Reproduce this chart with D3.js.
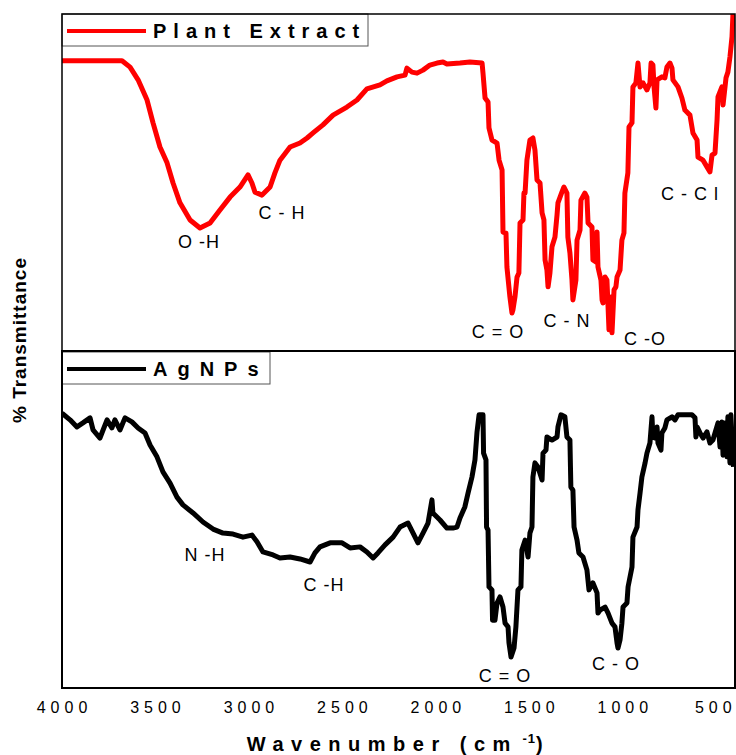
<!DOCTYPE html>
<html>
<head>
<meta charset="utf-8">
<script src="https://cdn.jsdelivr.net/npm/d3@7"></script>
<style>
  body { margin: 0; background: #fff; }
  svg text { font-family: "Liberation Sans", Arial, sans-serif; fill: #000; }
</style>
</head>
<body>
<div id="plot"></div>
<script>
var width = 736;
var height = 755;

// Plant extract spectrum: wavenumber (cm-1) and % transmittance
var peWn = [4000,3679,3636,3593,3545,3513,3476,3438,3406,3369,
    3315,3262,3208,3155,3101,3048,3005,2984,2968,2930,
    2887,2861,2834,2780,2727,2689,2657,2604,2550,2476,
    2422,2369,2299,2262,2208,2165,2155,2128,2101,2069,
    2032,1994,1962,1941,1871,1818,1753,1748,1737,1721,
    1716,1700,1673,1662,1646,1641,1625,1620,1604,1593,
    1588,1577,1566,1556,1550,1534,1529,1523,1513,1497,
    1481,1470,1459,1443,1432,1422,1416,1406,1400,1390,
    1379,1363,1352,1347,1326,1315,1299,1294,1283,1272,
    1267,1251,1245,1229,1224,1203,1192,1186,1165,1160,
    1144,1138,1133,1117,1111,1106,1095,1085,1079,1074,
    1063,1058,1047,1037,1031,1015,1005,994,989,973,
    967,951,946,930,919,908,892,871,855,849,
    839,833,823,817,791,775,764,748,737,732,
    705,684,668,641,625,603,598,571,550,534,
    523,507,496,491,470,464,448,438,427,416,
    411];
var peT = [86.1,86.1,84.2,80.4,74.4,67.6,60.4,55.7,49.7,43.8,
    38.7,36.3,37.8,41.7,45.5,48.5,52.1,49.7,47.0,46.1,
    48.5,52.7,56.5,60.4,61.6,63.1,64.6,67.0,69.9,72.3,
    74.4,77.7,78.9,80.1,81.3,81.8,83.9,82.7,82.4,83.3,
    84.8,85.4,85.7,85.1,85.4,85.7,85.4,82.4,75.0,73.8,
    66.1,62.5,61.6,56.5,53.6,35.1,34.8,24.7,15.8,11.0,
    11.9,15.8,21.7,22.9,37.8,38.7,46.7,46.7,56.5,62.5,
    63.1,59.5,50.6,49.7,40.8,38.7,26.8,23.8,18.8,22.9,
    30.7,33.6,40.2,43.8,47.0,48.5,46.7,33.6,28.9,20.8,
    14.9,20.8,32.7,35.7,44.6,46.7,45.5,37.8,36.6,26.8,
    26.2,35.1,24.7,20.8,14.9,14.0,21.7,20.8,12.8,6.0,
    15.8,5.1,17.9,18.8,21.7,23.8,32.7,34.8,46.7,52.7,
    66.4,67.6,78.3,79.5,85.4,78.3,79.5,77.4,79.5,85.4,
    84.8,78.3,72.0,80.4,81.3,81.0,84.2,85.4,83.9,80.4,
    78.3,75.0,71.4,69.9,64.6,62.5,57.4,56.5,54.5,53.0,
    58.0,58.6,68.5,75.3,78.3,72.9,81.0,82.7,87.2,93.2,
    100];

// AgNPs spectrum
var agWn = [4000,3957,3920,3888,3850,3834,3797,3759,3733,3717,
    3690,3663,3626,3593,3556,3529,3492,3460,3422,3385,
    3353,3299,3246,3192,3139,3085,3032,2984,2957,2925,
    2871,2834,2780,2727,2673,2647,2620,2566,2502,2459,
    2406,2369,2336,2310,2272,2229,2192,2149,2122,2096,
    2069,2042,2021,2016,1978,1941,1909,1887,1871,1845,
    1828,1807,1791,1780,1769,1748,1745,1732,1729,1721,
    1716,1700,1697,1684,1673,1657,1641,1630,1614,1609,
    1598,1582,1572,1561,1545,1540,1523,1507,1497,1486,
    1481,1470,1454,1432,1427,1411,1406,1379,1352,1347,
    1331,1310,1299,1283,1278,1267,1261,1245,1235,1213,
    1192,1181,1160,1138,1133,1122,1095,1079,1058,1042,
    1031,1026,1015,1005,999,978,972,951,946,924,
    919,908,898,881,871,855,844,839,828,817,
    812,796,791,775,764,737,721,705,668,630,
    614,609,603,587,571,550,534,518,507,491,
    480,470,464,454,443,438,427,422,411,408];
var agT = [81.8,79.8,77.7,78.9,80.4,76.8,74.4,79.8,77.4,79.8,
    76.8,80.4,79.2,77.4,75.9,72.3,68.8,64.3,61.0,56.8,
    54.5,52.1,49.4,47.3,46.1,45.8,44.9,45.5,43.5,40.5,
    39.6,38.7,39.0,38.4,37.5,40.2,42.0,43.2,43.2,41.7,
    42.0,40.5,38.7,40.2,42.6,44.9,47.9,49.1,46.1,43.2,
    46.1,49.1,56.0,52.1,50.0,47.6,47.6,47.9,50.6,53.9,
    58.0,62.8,67.9,76.2,81.3,81.3,69.9,67.9,47.9,47.0,
    30.1,29.2,20.2,20.2,25.3,27.1,24.1,19.3,18.2,13.4,
    9.2,11.9,18.2,29.2,30.1,41.1,44.0,39.0,46.1,47.9,
    62.8,67.0,65.8,61.9,69.9,70.8,74.7,73.8,74.7,77.7,
    81.3,80.7,74.7,73.8,59.8,58.9,47.9,44.0,40.2,39.0,
    35.1,29.2,31.3,28.3,22.3,23.2,24.1,22.3,19.3,18.2,
    13.4,11.9,14.3,19.3,24.1,25.3,30.1,36.0,44.9,47.9,
    53.0,58.0,62.8,67.0,69.9,72.9,80.7,74.7,74.4,77.7,
    72.9,70.8,75.9,77.4,79.8,80.7,79.8,81.3,81.3,81.3,
    80.4,74.7,77.7,75.9,74.4,76.2,72.9,73.8,75.9,78.9,
    71.7,79.2,69.3,78.9,68.8,80.7,67.0,81.3,68.8,65.8];

var xTicks = [4000, 3500, 3000, 2500, 2000, 1500, 1000, 500];

// band labels: text, wavenumber, transmittance
var peBands = [['O -H', 3267, 31.8], ['C - H', 2823, 40.5], ['C = O', 1668, 5.0],
    ['C  - N', 1299, 8.3], ['C  -O', 881, 2.8], ['C  - C l', 641, 46]];
var agBands = [['N -H', 3235, 39.3], ['C -H', 2599, 30.4], ['C  =  O', 1630, 3.3],
    ['C - O', 1037, 6.9]];

var left = 62, right = 735;
var top1 = 14, mid = 351, bot = 688;

var canvas = d3.select('#plot')
    .append('svg')
    .attr('width', width)
    .attr('height', height);

var x_scale = d3.scaleLinear().domain([4000, 400]).range([left, right]);
var y_top = d3.scaleLinear().domain([0, 100]).range([mid - 1, top1]);
var y_bot = d3.scaleLinear().domain([0, 100]).range([bot, mid + 1]);

canvas.append('clipPath').attr('id', 'clipTop')
    .append('rect').attr('x', left).attr('y', top1).attr('width', right - left).attr('height', mid - top1);
canvas.append('clipPath').attr('id', 'clipBot')
    .append('rect').attr('x', left).attr('y', mid).attr('width', right - left).attr('height', bot - mid);

function drawPanel(wn, t, y_scale, color, clip, bands, name, boxW, spacing, lineW) {
    var data = d3.zip(wn, t);
    var line = d3.line()
        .x(function(d) { return x_scale(d[0]); })
        .y(function(d) { return y_scale(d[1]); });

    canvas.append('path')
        .datum(data)
        .attr('clip-path', 'url(#' + clip + ')')
        .attr('d', line)
        .attr('fill', 'none')
        .attr('stroke', color)
        .attr('stroke-width', lineW)
        .attr('stroke-linejoin', 'round');

    canvas.selectAll(null)
        .data(bands)
        .enter()
        .append('text')
        .attr('x', function(d) { return x_scale(d[1]); })
        .attr('y', function(d) { return y_scale(d[2]); })
        .attr('text-anchor', 'middle')
        .attr('dominant-baseline', 'middle')
        .style('font-size', '18px')
        .style('letter-spacing', '1px')
        .text(function(d) { return d[0]; });

    // legend box
    var y0 = y_scale.range()[1];
    canvas.append('rect')
        .attr('x', left).attr('y', y0)
        .attr('width', boxW).attr('height', 32)
        .attr('fill', '#fff').attr('stroke', '#555').attr('stroke-width', 1);
    canvas.append('line')
        .attr('x1', left + 5).attr('x2', left + 84)
        .attr('y1', y0 + 17).attr('y2', y0 + 17)
        .attr('stroke', color).attr('stroke-width', 4);
    canvas.append('text')
        .attr('x', left + 91).attr('y', y0 + 24)
        .style('font-size', '20px').style('font-weight', 'bold')
        .style('letter-spacing', spacing + 'px')
        .text(name);
}

drawPanel(peWn, peT, y_top, '#ff0000', 'clipTop', peBands, 'Plant Extract', 306, 7, 5);
drawPanel(agWn, agT, y_bot, '#000000', 'clipBot', agBands, 'AgNPs', 208, 10, 5);

// frames
canvas.append('rect').attr('x', left).attr('y', top1)
    .attr('width', right - left).attr('height', mid - top1)
    .attr('fill', 'none').attr('stroke', '#000').attr('stroke-width', 1.5);
canvas.append('rect').attr('x', left).attr('y', mid)
    .attr('width', right - left).attr('height', bot - mid)
    .attr('fill', 'none').attr('stroke', '#000').attr('stroke-width', 2);

// x axis labels only
var x_axis = d3.axisBottom(x_scale).tickValues(xTicks).tickSize(0).tickFormat(d3.format('d'));
var gx = canvas.append('g')
    .attr('transform', 'translate(0,' + bot + ')')
    .call(x_axis);
gx.select('.domain').remove();
gx.selectAll('text')
    .attr('y', 14)
    .attr('dx', '2px')
    .style('font-family', '"Liberation Sans", Arial, sans-serif')
    .style('font-size', '16px')
    .style('letter-spacing', '5px');
gx.selectAll('.tick').filter(function(d) { return d === 500; }).select('text')
    .attr('dx', '-1px');

var xt = canvas.append('text')
    .attr('x', (left + right) / 2)
    .attr('y', 751)
    .attr('text-anchor', 'middle')
    .style('font-size', '20px').style('font-weight', 'bold')
    .style('letter-spacing', '7.5px');
xt.append('tspan').text('Wavenumber (cm');
xt.append('tspan').attr('dy', -8).style('font-size', '13px').style('letter-spacing', '1px').text(' -1');
xt.append('tspan').attr('dy', 8).text(')');

canvas.append('text')
    .attr('transform', 'translate(26,' + 340 + ') rotate(-90)')
    .attr('text-anchor', 'middle')
    .style('font-size', '19px').style('font-weight', 'bold')
    .style('letter-spacing', '1px')
    .text('% Transmittance');
</script>
</body>
</html>
